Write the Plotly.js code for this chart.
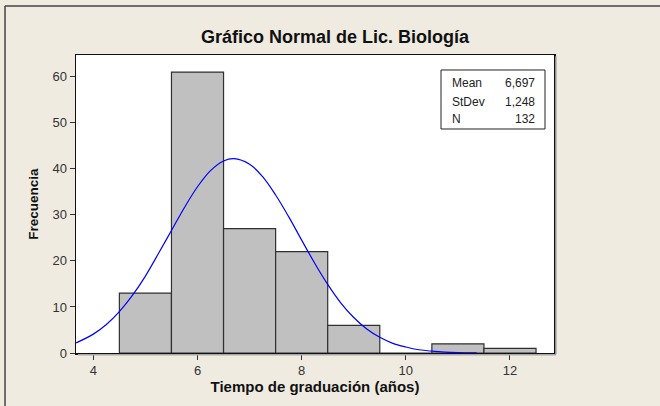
<!DOCTYPE html>
<html>
<head>
<meta charset="utf-8">
<script src="https://cdn.plot.ly/plotly-3.0.1.min.js"></script>
<style>
  html, body { margin: 0; padding: 0; background: #efebe1; }
  #chart { width: 660px; height: 406px; }
</style>
</head>
<body>
<div id="chart"></div>
<script>
// histogram bins (centres, width 1) and counts
const binCentres = [5, 6, 7, 8, 9, 10, 11, 12];
const counts = [13, 61, 27, 22, 6, 0, 2, 1];

// fitted normal curve
const curveX = [3.67, 4.0, 4.25, 4.5, 4.75, 5.0, 5.25, 5.5, 5.75, 6.0, 6.25, 6.5, 6.7,
  7.0, 7.25, 7.5, 7.75, 8.0, 8.25, 8.5, 8.75, 9.0, 9.25, 9.5, 9.75, 10.0, 10.25,
  10.5, 10.75, 11.0, 11.36];
const curveY = [2.2, 4.1, 6.2, 9.0, 12.5, 16.7, 21.6, 26.6, 31.6, 36.1, 39.6, 41.7, 42.2,
  41.0, 38.3, 34.3, 29.6, 24.5, 19.5, 14.9, 10.9, 7.7, 5.2, 3.4, 2.1, 1.3, 0.7,
  0.4, 0.2, 0.1, 0.04];

const statLabels = ['Mean', 'StDev', 'N'];
const statValues = ['6,697', '1,248', '132'];

const font = 'Liberation Sans, Arial, sans-serif';

const bars = {
  type: 'bar',
  x: binCentres,
  y: counts,
  width: 1,
  marker: { color: '#c0c0c0', line: { color: '#303030', width: 1.2 } },
  hoverinfo: 'x+y',
};

const curve = {
  type: 'scatter',
  mode: 'lines',
  x: curveX,
  y: curveY,
  line: { color: '#0000ff', width: 1.2, shape: 'spline' },
  hoverinfo: 'skip',
};

// stats box in the upper right corner
const rowY = [0.906, 0.842, 0.785];
const annotations = [];
statLabels.forEach((lab, i) => {
  annotations.push({
    xref: 'paper', yref: 'paper', x: 0.782, y: rowY[i], xanchor: 'left', yanchor: 'middle',
    text: lab, showarrow: false, font: { family: font, size: 12, color: '#222' },
  });
  annotations.push({
    xref: 'paper', yref: 'paper', x: 0.965, y: rowY[i], xanchor: 'right', yanchor: 'middle',
    text: statValues[i], showarrow: false, font: { family: font, size: 12, color: '#222' },
  });
});

const shapes = [
  // outer frame (top and left)
  { type: 'line', xref: 'paper', yref: 'paper', x0: -0.1485, x1: 1.23, y0: 1.1644, y1: 1.1644,
    line: { color: '#444', width: 1.5 } },
  { type: 'line', xref: 'paper', yref: 'paper', x0: -0.1485, x1: -0.1485, y0: -0.2, y1: 1.1644,
    line: { color: '#444', width: 1.5 } },
  // soft shadow on the plot frame
  { type: 'line', xref: 'paper', yref: 'paper', x0: 1.004, x1: 1.004, y0: -0.004, y1: 0.996,
    line: { color: '#a8a8a8', width: 1.5 } },
  { type: 'line', xref: 'paper', yref: 'paper', x0: 0.004, x1: 1.004, y0: -0.006, y1: -0.006,
    line: { color: '#a8a8a8', width: 1.5 } },
  // stats box
  { type: 'rect', xref: 'paper', yref: 'paper', x0: 0.7636, x1: 0.9812, y0: 0.7517, y1: 0.9497,
    line: { color: '#222', width: 1 }, fillcolor: 'rgba(0,0,0,0)' },
];

const axisCommon = {
  showline: true, linecolor: '#111', linewidth: 1.5, mirror: true,
  showgrid: false, zeroline: false,
  ticks: 'outside', ticklen: 5, tickcolor: '#333', tickwidth: 1,
  tickfont: { family: font, size: 13, color: '#333' },
};

const layout = {
  width: 660, height: 406,
  margin: { l: 76, r: 106, t: 55, b: 53 },
  paper_bgcolor: '#efebe1',
  plot_bgcolor: '#ffffff',
  showlegend: false,
  bargap: 0,
  title: {
    text: '<b>Gráfico Normal de Lic. Biología</b>',
    font: { family: font, size: 18, color: '#111' },
    xref: 'container', yref: 'container', x: 0.5076, y: 0.91,
    xanchor: 'center', yanchor: 'middle',
  },
  xaxis: {
    ...axisCommon,
    range: [3.667, 12.845],
    tickvals: [4, 6, 8, 10, 12],
    title: { text: '<b>Tiempo de graduación (años)</b>', font: { family: font, size: 15, color: '#111' }, standoff: 4 },
  },
  yaxis: {
    ...axisCommon,
    range: [0, 64.7],
    tickvals: [0, 10, 20, 30, 40, 50, 60],
    title: { text: '<b>Frecuencia</b>', font: { family: font, size: 13.5, color: '#111' }, standoff: 10 },
  },
  shapes,
  annotations,
};

Plotly.newPlot('chart', [bars, curve], layout, { displayModeBar: false, staticPlot: true });
</script>
</body>
</html>
